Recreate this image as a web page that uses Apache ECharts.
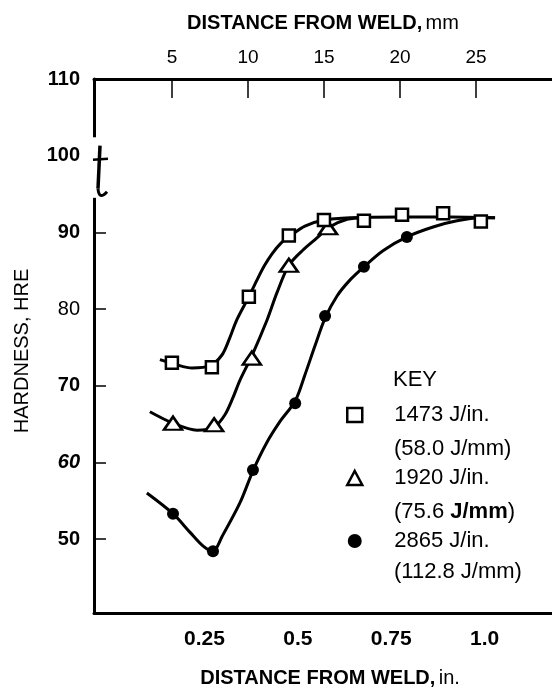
<!DOCTYPE html>
<html><head><meta charset="utf-8">
<script src="https://cdn.jsdelivr.net/npm/echarts@6/dist/echarts.min.js"></script>
<style>html,body{margin:0;padding:0;background:#fff}#c{width:552px;height:692px}</style>
</head><body><div id="c"></div>
<script>
// ---------- data ----------
const seriesNames = ['1473 J/in.', '1920 J/in.', '2865 J/in.'];
const seriesSubNames = ['(58.0 J/mm)', '(75.6 J/mm)', '(112.8 J/mm)'];

// measured points (x in inches, y hardness HRE)
const squareX = [0.163, 0.270, 0.369, 0.476, 0.570, 0.677, 0.779, 0.889, 0.990];
const squareY = [73.0, 72.4, 81.6, 89.6, 91.6, 91.5, 92.3, 92.5, 91.4];
const triangleX = [0.166, 0.276, 0.377, 0.476, 0.581];
const triangleY = [65.1, 64.9, 73.6, 85.7, 90.6];
const circleX = [0.166, 0.273, 0.380, 0.493, 0.573, 0.677, 0.792];
const circleY = [53.3, 48.4, 59.0, 67.7, 79.1, 85.5, 89.4];

// hand-drawn fitted curves
const squareCurveX = [0.131, 0.171, 0.217, 0.265, 0.297, 0.316, 0.337, 0.369, 0.391, 0.410, 0.431, 0.455, 0.479, 0.519, 0.570, 0.640, 0.774, 0.907, 1.028];
const squareCurveY = [73.4, 72.8, 72.3, 72.6, 74.0, 76.0, 78.6, 81.6, 83.8, 85.6, 87.2, 88.6, 89.5, 90.8, 91.6, 91.9, 92.0, 92.0, 91.9];
const triangleCurveX = [0.104, 0.166, 0.230, 0.276, 0.305, 0.327, 0.345, 0.377, 0.418, 0.444, 0.476, 0.514, 0.552, 0.581, 0.632, 0.680];
const triangleCurveY = [66.6, 65.1, 64.2, 64.6, 66.2, 68.5, 70.7, 73.9, 78.6, 82.1, 85.7, 87.7, 89.3, 90.6, 91.7, 91.9];
const circleCurveX = [0.096, 0.166, 0.211, 0.246, 0.273, 0.297, 0.345, 0.380, 0.415, 0.452, 0.493, 0.519, 0.546, 0.573, 0.605, 0.640, 0.677, 0.728, 0.792, 0.862, 0.926, 0.988, 1.028];
const circleCurveY = [56.0, 53.3, 50.9, 49.1, 48.4, 50.3, 54.7, 58.9, 62.4, 65.3, 68.0, 71.4, 75.2, 78.8, 81.7, 83.8, 85.5, 87.6, 89.4, 90.7, 91.5, 91.9, 91.9];

// tick values / labels
const inchTicks = [0.25, 0.5, 0.75, 1.0];
const inchTickLabels = ['0.25', '0.5', '0.75', '1.0'];
const mmTicks = [5, 10, 15, 20, 25];
const hardnessLabelValues = [50, 60, 70, 80, 90, 100, 110];
const hardnessTickValues = [50, 60, 70, 80, 90];

// ---------- chart ----------
const FONT = '"Liberation Sans", Arial, Helvetica, sans-serif';
const zip = (xs, ys) => xs.map((x, i) => [x, ys[i]]);
const chart = echarts.init(document.getElementById('c'), null, {renderer: 'canvas'});

const X_MIN = -0.0455, X_MAX = 1.1804;
const Y_MIN = 40.35, Y_MAX = 110;

function curve(name, xs, ys) {
  return {
    name: name, type: 'line', data: zip(xs, ys), smooth: 0.3, showSymbol: false, symbol: 'none',
    silent: true, z: 2, lineStyle: {color: '#000', width: 3}, xAxisIndex: 0, yAxisIndex: 0
  };
}

const option = {
  animation: false,
  backgroundColor: '#fff',
  grid: {left: 94, right: 0, top: 79, bottom: 79, containLabel: false, outerBoundsMode: 'none'},
  xAxis: [
    {
      type: 'value', position: 'bottom', min: X_MIN, max: X_MAX, gridIndex: 0,
      splitLine: {show: false},
      axisLine: {show: true, onZero: false, lineStyle: {color: '#000', width: 3}},
      axisTick: {show: false},
      axisLabel: {
        customValues: inchTicks, margin: 16, color: '#000', fontSize: 21, fontWeight: 'bold', fontFamily: FONT,
        formatter: v => inchTickLabels[inchTicks.indexOf(v)]
      },
      name: '{b|DISTANCE FROM WELD,} {n|in.}', nameLocation: 'middle', nameGap: 55,
      nameTextStyle: {
        padding: [0, 0, 0, 14],
        rich: {
          b: {fontSize: 20, fontWeight: 'bold', fontFamily: FONT, color: '#000'},
          n: {fontSize: 20, fontWeight: 'normal', fontFamily: FONT, color: '#000'}
        }
      }
    },
    {
      type: 'value', position: 'top', min: -0.13, max: 30.0, gridIndex: 0,
      splitLine: {show: false},
      axisLine: {show: true, onZero: false, lineStyle: {color: '#000', width: 3}},
      axisTick: {show: true, inside: true, length: 19, customValues: mmTicks, lineStyle: {color: '#000', width: 1.5}},
      axisLabel: {customValues: mmTicks, margin: 12, color: '#000', fontSize: 19, fontFamily: FONT},
      name: '{b|DISTANCE FROM WELD,} {n|mm}', nameLocation: 'middle', nameGap: 46,
      nameTextStyle: {
        rich: {
          b: {fontSize: 20, fontWeight: 'bold', fontFamily: FONT, color: '#000'},
          n: {fontSize: 20, fontWeight: 'normal', fontFamily: FONT, color: '#000'}
        }
      }
    }
  ],
  yAxis: {
    type: 'value', min: Y_MIN, max: Y_MAX, position: 'left',
    splitLine: {show: false},
    axisLine: {show: true, onZero: false, lineStyle: {color: '#000', width: 3}},
    axisTick: {show: true, inside: true, length: 12, customValues: hardnessTickValues, lineStyle: {color: '#000', width: 1.5}},
    axisLabel: {
      customValues: hardnessLabelValues, margin: 14,
      formatter: v => (v === 80 ? '{n|' + v + '}' : v === 60 ? '{i|' + v + '}' : '{b|' + v + '}'),
      rich: {
        b: {fontSize: 20, fontWeight: 'bold', fontFamily: FONT, color: '#000'},
        n: {fontSize: 20, fontWeight: 'normal', fontFamily: FONT, color: '#000'},
        i: {fontSize: 20, fontWeight: 'bold', fontStyle: 'italic', fontFamily: FONT, color: '#000'}
      }
    },
    name: 'HARDNESS, HRE', nameLocation: 'middle', nameGap: 62,
    nameTextStyle: {fontSize: 20, fontFamily: FONT, color: '#000', padding: [0, 10, 0, 0]}
  },
  legend: {
    show: true, orient: 'vertical', left: 346, top: 402, padding: 0, selectedMode: false,
    itemWidth: 15, itemHeight: 14, itemGap: 37,
    textStyle: {fontSize: 22, fontFamily: FONT, color: '#000', lineHeight: 26, padding: [0, 0, 0, 27]},
    data: [
      {name: seriesNames[0], icon: 'rect', itemStyle: {color: '#fff', borderColor: '#000', borderWidth: 2.5}},
      {name: seriesNames[1], icon: 'triangle', itemStyle: {color: '#fff', borderColor: '#000', borderWidth: 2.5}},
      {name: seriesNames[2], icon: 'circle', itemStyle: {color: '#000', borderWidth: 0}}
    ]
  },
  series: [
    curve('c1', squareCurveX, squareCurveY),
    curve('c2', triangleCurveX, triangleCurveY),
    curve('c3', circleCurveX, circleCurveY),
    {
      name: seriesNames[1], type: 'scatter', data: zip(triangleX, triangleY), symbol: 'triangle', symbolSize: [18, 13],
      z: 3, itemStyle: {color: '#fff', borderColor: '#000', borderWidth: 2.5, opacity: 1}
    },
    {
      name: seriesNames[2], type: 'scatter', data: zip(circleX, circleY), symbol: 'circle', symbolSize: 12,
      z: 3, itemStyle: {color: '#000', opacity: 1}
    },
    {
      name: seriesNames[0], type: 'scatter', data: zip(squareX, squareY), symbol: 'rect', symbolSize: 12,
      z: 4, itemStyle: {color: '#fff', borderColor: '#000', borderWidth: 2.5, opacity: 1}
    }
  ]
};
chart.setOption(option);

// ---------- decorations: legend KEY / second lines, broken y axis ----------
const ax = chart.convertToPixel({xAxisIndex: 0}, X_MIN);
const yTopBreak = chart.convertToPixel({yAxisIndex: 0}, 102.4);
const yBotBreak = chart.convertToPixel({yAxisIndex: 0}, 94.5);
const y100 = chart.convertToPixel({yAxisIndex: 0}, 100);

const subY = [450, 513, 573];
const graphics = [
  {type: 'text', left: 393, top: 369, z: 10, style: {text: 'KEY', font: '22px ' + FONT, fill: '#000'}},
  {type: 'rect', z: 50, shape: {x: ax - 6, y: yTopBreak, width: 12, height: yBotBreak - yTopBreak}, style: {fill: '#fff'}},
  {type: 'line', z: 60, shape: {x1: ax + 6, y1: y100 - 10, x2: ax + 4, y2: y100 + 33}, style: {stroke: '#000', lineWidth: 3.5}},
  {type: 'bezierCurve', z: 60, shape: {x1: ax + 4, y1: y100 + 33, cpx1: ax + 5, cpy1: y100 + 45, x2: ax + 13, y2: y100 + 36},
    style: {stroke: '#000', lineWidth: 3, fill: null}},
  {type: 'line', z: 60, shape: {x1: ax - 1, y1: y100 + 4, x2: ax + 14, y2: y100 + 3}, style: {stroke: '#000', lineWidth: 2.5}}
];
seriesSubNames.forEach((t, i) => {
  const m = t.match(/^\((\S+) (J\/mm)\)$/);
  const rich = i === 1 ? '{n|(' + m[1] + ' }{b|' + m[2] + '}{n|)}' : '{n|' + t + '}';
  graphics.push({
    type: 'text', left: 394, top: subY[i] - 12, z: 10,
    style: {
      text: rich,
      rich: {
        n: {fontSize: 22, fontFamily: FONT, fill: '#000', lineHeight: 24},
        b: {fontSize: 22, fontWeight: 'bold', fontFamily: FONT, fill: '#000', lineHeight: 24}
      }
    }
  });
});
chart.setOption({graphic: graphics});
</script>
</body></html>
